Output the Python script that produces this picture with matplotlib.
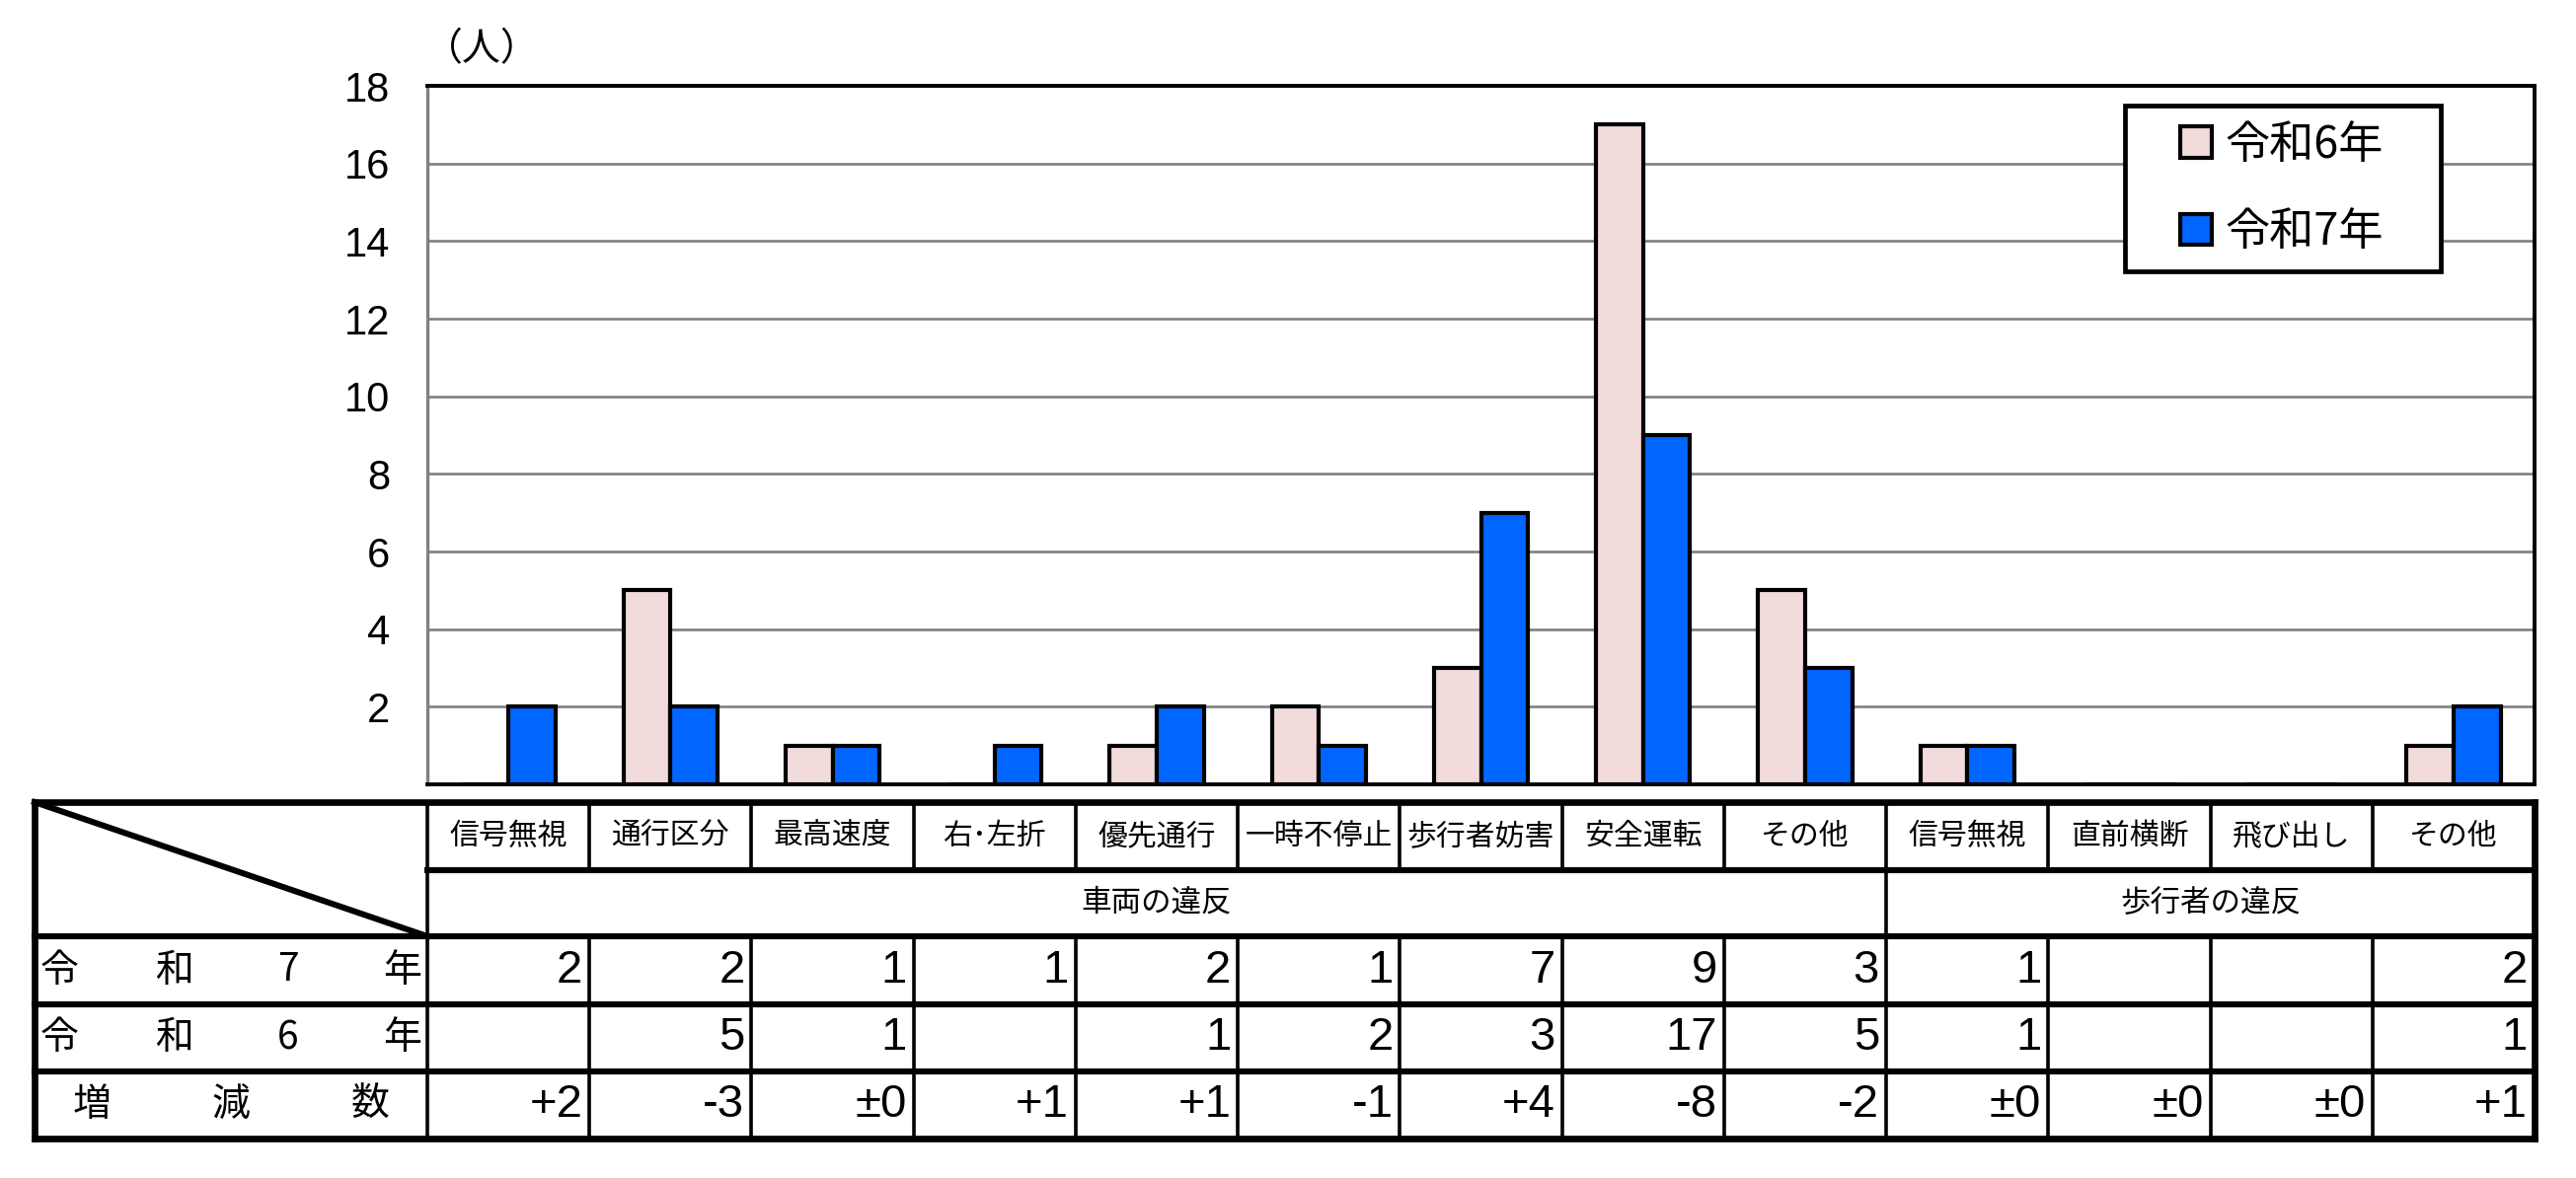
import matplotlib
matplotlib.use("Agg")
import matplotlib.pyplot as plt
from matplotlib.patches import Patch, Rectangle
import numpy as np

plt.rcParams["font.family"] = ["Noto Sans CJK JP", "DejaVu Sans"]
NUM_FONT = ["Liberation Sans Narrow", "Liberation Sans", "DejaVu Sans"]

# data
categories = ["信号無視", "通行区分", "最高速度", "右･左折", "優先通行", "一時不停止",
              "歩行者妨害", "安全運転", "その他", "信号無視", "直前横断", "飛び出し", "その他"]
groups = ["車両の違反", "歩行者の違反"]
group_sizes = [9, 4]
series_names = ["令和6年", "令和7年"]
r6 = [0, 5, 1, 0, 1, 2, 3, 17, 5, 1, 0, 0, 1]
r7 = [2, 2, 1, 1, 2, 1, 7, 9, 3, 1, 0, 0, 2]
row_labels = ["令和7年", "令和6年", "増減数"]
yticks = [2, 4, 6, 8, 10, 12, 14, 16, 18]
unit_label = "（人）"

PINK = "#F2DCDB"
BLUE = "#0066FF"

W, H = 2610, 1194
fig = plt.figure(figsize=(W / 100, H / 100), dpi=100)


def fx(px):
    return px / W


def fy(py):
    return 1 - py / H


# chart area (pixel layout of the reference)
PL, PR, PT, PB = 433, 2568, 87, 795
ax = fig.add_axes([fx(PL), fy(PB), fx(PR) - fx(PL), fy(PT) - fy(PB)])
x = np.arange(len(categories))
bw = 0.29
ax.bar(x - bw / 2, r6, bw, color=PINK, edgecolor="black", linewidth=3, zorder=3)
ax.bar(x + bw / 2, r7, bw, color=BLUE, edgecolor="black", linewidth=3, zorder=3)
ax.set_xlim(-0.5, len(categories) - 0.5)
ax.set_ylim(0, 18)
ax.set_xticks([])
ax.set_yticks(yticks)
ax.set_yticklabels([str(v) for v in yticks], fontfamily=NUM_FONT, fontsize=30)
ax.tick_params(axis="y", length=0, pad=27)
ax.yaxis.grid(True, color="#808080", linewidth=1.9)
ax.set_axisbelow(True)
for side in ["top", "right", "bottom"]:
    ax.spines[side].set_color("black")
    ax.spines[side].set_linewidth(2.8)
ax.spines["left"].set_color("#808080")
ax.spines["left"].set_linewidth(2.4)

fig.text(fx(430), fy(50), unit_label, fontsize=28, ha="left", va="center")

# legend with a larger frame behind it
ax.add_patch(Rectangle((fx(2153), fy(275)), fx(2473) - fx(2153), fy(107) - fy(275),
                       transform=fig.transFigure, facecolor="white", edgecolor="black",
                       linewidth=3.4, zorder=4, clip_on=False))
handles = [Patch(facecolor=PINK, edgecolor="black", linewidth=3),
           Patch(facecolor=BLUE, edgecolor="black", linewidth=3)]
leg = ax.legend(handles, series_names, loc="center", bbox_to_anchor=(fx(2312), fy(191)),
                bbox_transform=fig.transFigure, fontsize=32.5, frameon=False,
                handlelength=0.7, handleheight=0.7, handletextpad=0.3, labelspacing=0.95,
                borderpad=0.2)
leg.set_zorder(6)

# table below
col_px = (PR - PL) / len(categories)
TL = 35
ROW_Y = [813, 882, 949, 1018, 1086, 1154]
xl = -0.5 - (PL - TL) / col_px
xd = -0.5
xr = len(categories) - 0.5
tab = fig.add_axes([fx(TL), fy(ROW_Y[-1]), fx(PR) - fx(TL), fy(ROW_Y[0]) - fy(ROW_Y[-1])])
tab.set_xlim(xl, xr)
tab.set_ylim(ROW_Y[-1], ROW_Y[0])
tab.axis("off")

HW, VW, OW = 4.4, 2.6, 4.8


def line(xs, ys, lw):
    tab.plot(xs, ys, color="black", linewidth=lw, clip_on=False, solid_capstyle="projecting")


line([xl, xr], [ROW_Y[0], ROW_Y[0]], OW)
line([xl, xr], [ROW_Y[-1], ROW_Y[-1]], OW)
line([xd, xr], [ROW_Y[1], ROW_Y[1]], HW)
for yy in ROW_Y[2:5]:
    line([xl, xr], [yy, yy], HW)
line([xl, xl], [ROW_Y[0], ROW_Y[-1]], OW)
line([xr, xr], [ROW_Y[0], ROW_Y[-1]], OW)
line([xd, xd], [ROW_Y[0], ROW_Y[-1]], VW)
bounds = np.cumsum(group_sizes)[:-1]
for i in range(len(categories) - 1):
    xb = i + 0.5
    line([xb, xb], [ROW_Y[0], ROW_Y[1]], VW)
    line([xb, xb], [ROW_Y[2], ROW_Y[-1]], VW)
    if i + 1 in bounds:
        line([xb, xb], [ROW_Y[1], ROW_Y[2]], VW)
line([xl, xd], [ROW_Y[0], ROW_Y[2]], 4.4)

for i, cat in enumerate(categories):
    tab.text(i, (ROW_Y[0] + ROW_Y[1]) / 2, cat, ha="center", va="center", fontsize=21.5)

start = 0
for g, n in zip(groups, group_sizes):
    tab.text(start - 0.5 + n / 2, (ROW_Y[1] + ROW_Y[2]) / 2, g,
             ha="center", va="center", fontsize=22)
    start += n


def fmt_diff(d):
    if d > 0:
        return f"+{d}"
    if d < 0:
        return f"-{-d}"
    return "±0"


rows = [[str(v) if v else "" for v in r7],
        [str(v) if v else "" for v in r6],
        [fmt_diff(a - b) for a, b in zip(r7, r6)]]

for r, (label, vals) in enumerate(zip(row_labels, rows)):
    yc = (ROW_Y[r + 2] + ROW_Y[r + 3]) / 2
    pad = 25 if len(label) == 4 else 58
    pos = np.linspace(TL + pad, PL - pad, len(label))
    for ch, px in zip(label, pos):
        tab.text(xl + (px - TL) / col_px, yc, ch, ha="center", va="center", fontsize=28)
    for i, s in enumerate(vals):
        tab.text(i + 0.5 - 7 / col_px, yc, s, ha="right", va="center",
                 fontfamily=NUM_FONT, fontsize=34)

fig.savefig("out.png", dpi=100)
